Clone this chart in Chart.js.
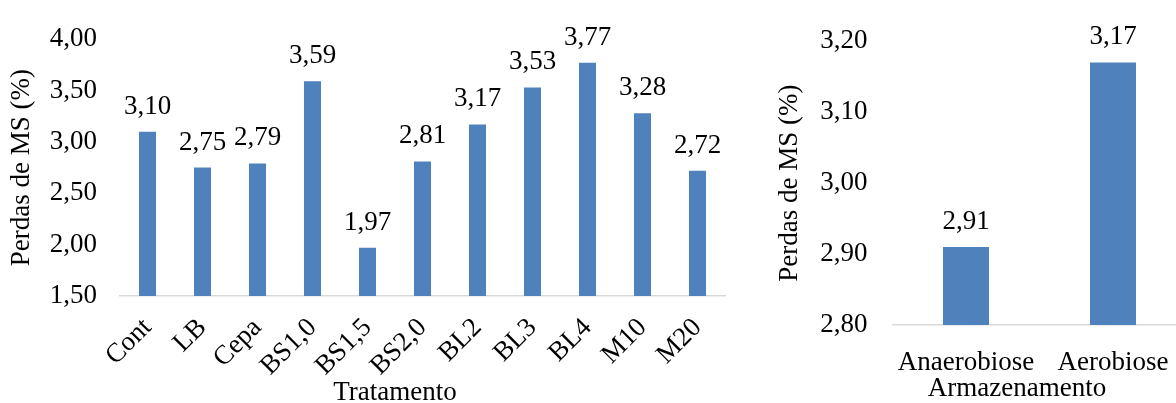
<!DOCTYPE html>
<html>
<head>
<meta charset="utf-8">
<script src="https://cdn.jsdelivr.net/npm/chart.js@4"></script>
<style>
    html, body { margin: 0; padding: 0; background: #fff; }
    body { width: 1176px; height: 403px; position: relative; overflow: hidden; }
    .panel { position: absolute; top: 0; }
    .axis-title {
        position: absolute;
        font: 27px "Liberation Serif", "Times New Roman", serif;
        line-height: 27px;
        color: #000;
        white-space: nowrap;
        transform: translateX(-50%);
    }
</style>
</head>
<body>
<div class="panel" style="left:0; width:745px; height:403px;"><canvas id="treatChart" width="745" height="403"></canvas></div>
<div class="panel" style="left:740px; width:460px; height:403px;"><canvas id="storeChart" width="460" height="403"></canvas></div>
<div class="axis-title" style="left:395px; top:378px;">Tratamento</div>
<div class="axis-title" style="left:1017px; top:374px;">Armazenamento</div>

<script>
// dry matter losses by treatment
const treatments = ["Cont", "LB", "Cepa", "BS1,0", "BS1,5", "BS2,0", "BL2", "BL3", "BL4", "M10", "M20"];
const treatmentLoss = [3.10, 2.75, 2.79, 3.59, 1.97, 2.81, 3.17, 3.53, 3.77, 3.28, 2.72];

// dry matter losses by storage condition
const storage = ["Anaerobiose", "Aerobiose"];
const storageLoss = [2.91, 3.17];

// y axis ranges
const treatTicks = [1.5, 4.0, 0.5];   // min, max, step
const storeTicks = [2.8, 3.2, 0.1];

const BAR_BLUE = "#4f81bd";
const FONT = '"Liberation Serif", "Times New Roman", serif';

Chart.defaults.font.family = FONT;
Chart.defaults.font.size = 27;
Chart.defaults.color = "#000";

const comma = v => v.toFixed(2).replace(".", ",");

// writes the value over each bar
const valueLabels = {
    id: "valueLabels",
    afterDatasetsDraw(chart) {
        const ctx = chart.ctx;
        const values = chart.data.datasets[0].data;
        const meta = chart.getDatasetMeta(0);
        ctx.save();
        ctx.font = "27px " + FONT;
        ctx.fillStyle = "#000";
        ctx.textAlign = "center";
        ctx.textBaseline = "alphabetic";
        meta.data.forEach((bar, i) => {
            ctx.fillText(comma(values[i]), bar.x, bar.y - 18);
        });
        ctx.restore();
    }
};

function makeChart(id, labels, data, ticks, opts) {
    return new Chart(document.getElementById(id), {
        type: "bar",
        data: {
            labels: labels,
            datasets: [{
                data: data,
                backgroundColor: BAR_BLUE,
                barPercentage: opts.barPct,
                categoryPercentage: 1
            }]
        },
        options: {
            responsive: false,
            animation: false,
            layout: { padding: { top: opts.top, right: opts.right, left: 0, bottom: 0 } },
            plugins: { legend: { display: false }, tooltip: { enabled: false } },
            scales: {
                x: {
                    grid: { display: false },
                    border: { display: true, color: "#d9d9d9", width: 1.5 },
                    ticks: {
                        autoSkip: false,
                        minRotation: opts.rotation,
                        maxRotation: opts.rotation,
                        padding: opts.xPad
                    },
                    afterFit: s => { s.height = opts.xHeight; }
                },
                y: {
                    min: ticks[0],
                    max: ticks[1],
                    grid: { display: false, drawTicks: false },
                    border: { display: false },
                    ticks: {
                        stepSize: ticks[2],
                        padding: opts.yPad,
                        callback: v => comma(v)
                    },
                    title: {
                        display: true,
                        text: "Perdas de MS (%)",
                        padding: { top: opts.titlePad, bottom: 0 }
                    },
                    afterFit: s => { s.width = opts.yWidth; }
                }
            }
        },
        plugins: [valueLabels]
    });
}

makeChart("treatChart", treatments, treatmentLoss, treatTicks, {
    barPct: 0.31, top: 27, right: 20, rotation: 45, xPad: 8,
    xHeight: 107, yPad: 23, yWidth: 120, titlePad: 6
});

makeChart("storeChart", storage, storageLoss, storeTicks, {
    barPct: 0.313, top: 37, right: 13.5, rotation: 0, xPad: 14,
    xHeight: 78, yPad: 25, yWidth: 152.5, titlePad: 34
});
</script>
</body>
</html>
